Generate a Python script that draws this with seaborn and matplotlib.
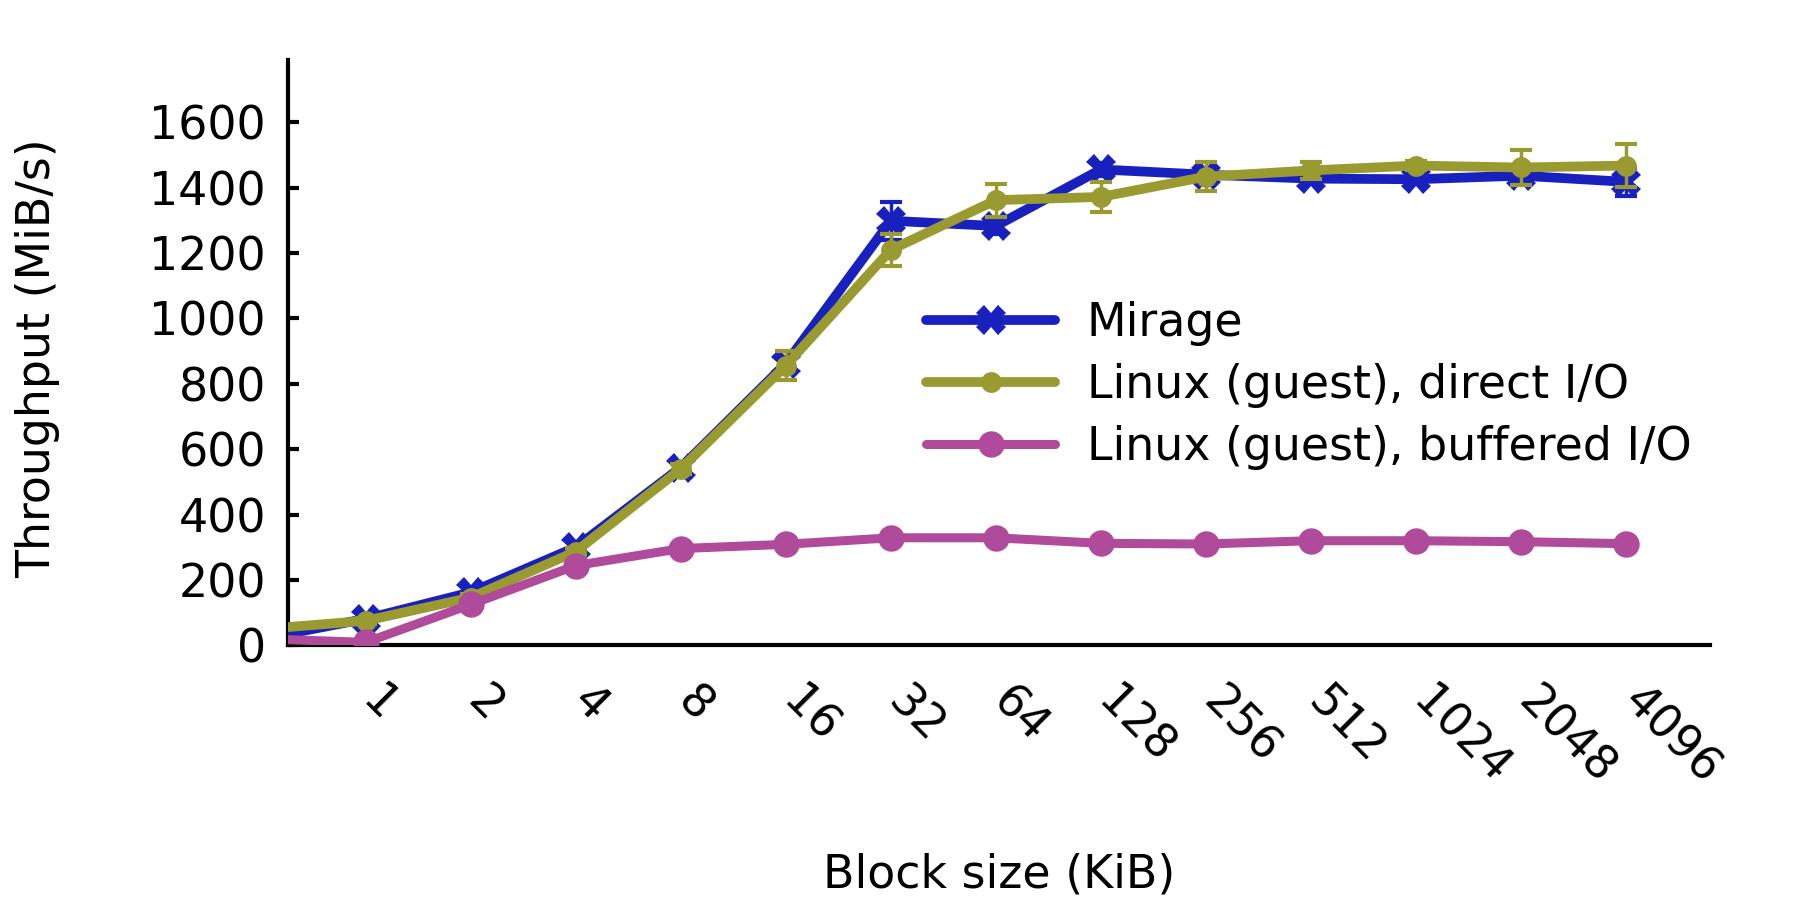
import numpy as np
import pandas as pd
import matplotlib
matplotlib.use("Agg")
import matplotlib.pyplot as plt
import matplotlib.transforms as mtransforms
import seaborn as sns

# block sizes in KiB (0.5 sits just left of the visible range)
blocks = [0.5, 1, 2, 4, 8, 16, 32, 64, 128, 256, 512, 1024, 2048, 4096]
mirage = [19, 81, 162, 300, 544, 862, 1299, 1283, 1456, 1440, 1428, 1426, 1437, 1418]
mirage_err = [0, 15, 15, 15, 15, 20, 58, 25, 20, 15, 15, 15, 20, 42]
direct = [49, 75, 146, 287, 540, 856, 1210, 1362, 1372, 1434, 1453, 1468, 1462, 1468]
direct_err = [0, 10, 10, 10, 15, 45, 48, 50, 45, 45, 25, 15, 55, 65]
buffered = [20, 9, 125, 244, 296, 309, 329, 329, 312, 310, 320, 320, 317, 311]

labels = ["Mirage", "Linux (guest), direct I/O", "Linux (guest), buffered I/O"]
colors = ["#1820bd", "#999a30", "#b04a9a"]

df = pd.DataFrame({"block": blocks, "mirage": mirage, "mirage_err": mirage_err,
                   "direct": direct, "direct_err": direct_err, "buffered": buffered})

sns.set_style("ticks")
plt.rcParams["font.family"] = ["DejaVu Sans"]
plt.rcParams["font.size"] = 33
for k in ["text.color", "axes.labelcolor", "xtick.color", "ytick.color", "axes.edgecolor"]:
    plt.rcParams[k] = "black"

fig, ax = plt.subplots(figsize=(18, 9), dpi=100)
fig.subplots_adjust(left=0.16, right=0.95, bottom=0.283, top=0.933)

# Mirage
sns.lineplot(data=df, x="block", y="mirage", ax=ax, color=colors[0], marker="X",
             markersize=21, markeredgewidth=0, linewidth=7, label=labels[0], zorder=3)
ax.errorbar(df["block"], df["mirage"], yerr=df["mirage_err"], fmt="none",
            ecolor=colors[0], elinewidth=2.5, capsize=8, capthick=3, zorder=3)

# direct I/O
sns.lineplot(data=df, x="block", y="direct", ax=ax, color=colors[1], marker="o",
             markersize=15, markeredgewidth=0, linewidth=7, label=labels[1], zorder=4)
ax.errorbar(df["block"], df["direct"], yerr=df["direct_err"], fmt="none",
            ecolor=colors[1], elinewidth=2.5, capsize=8, capthick=3, zorder=4)

# buffered I/O
sns.lineplot(data=df, x="block", y="buffered", ax=ax, color=colors[2], marker="o",
             markersize=19, markeredgewidth=0, linewidth=6.5, label=labels[2], zorder=5)

ax.set_xscale("log", base=2)
ax.set_xlim(2 ** -0.74, 2 ** 12.8)
ax.set_xticks(blocks[1:], labels=[str(b) for b in blocks[1:]])
ax.xaxis.set_minor_locator(matplotlib.ticker.NullLocator())
ax.set_ylim(0, 1790)
ax.set_yticks(range(0, 1601, 200))

ax.tick_params(axis="x", length=0, pad=24)
ax.tick_params(axis="y", direction="in", length=8, width=3, pad=16)
shift = mtransforms.ScaledTranslation(14 / 72, 0, fig.dpi_scale_trans)
for t in ax.get_xticklabels():
    t.set_rotation(-45)
    t.set_ha("left")
    t.set_va("top")
    t.set_rotation_mode("anchor")
    t.set_transform(t.get_transform() + shift)

sns.despine(ax=ax)
for s in ["left", "bottom"]:
    ax.spines[s].set_linewidth(3)

ax.set_xlabel("Block size (KiB)")
ax.set_ylabel("Throughput (MiB/s)")
ax.xaxis.set_label_coords(0.5, -0.355)
ax.yaxis.set_label_coords(-0.16, 0.49)

ax.legend(loc="center left", bbox_to_anchor=(0.449, 0.444), frameon=False,
          handlelength=2.8, handletextpad=0.7, labelspacing=0.38,
          borderpad=0, borderaxespad=0)

fig.savefig("out.png", dpi=100)
